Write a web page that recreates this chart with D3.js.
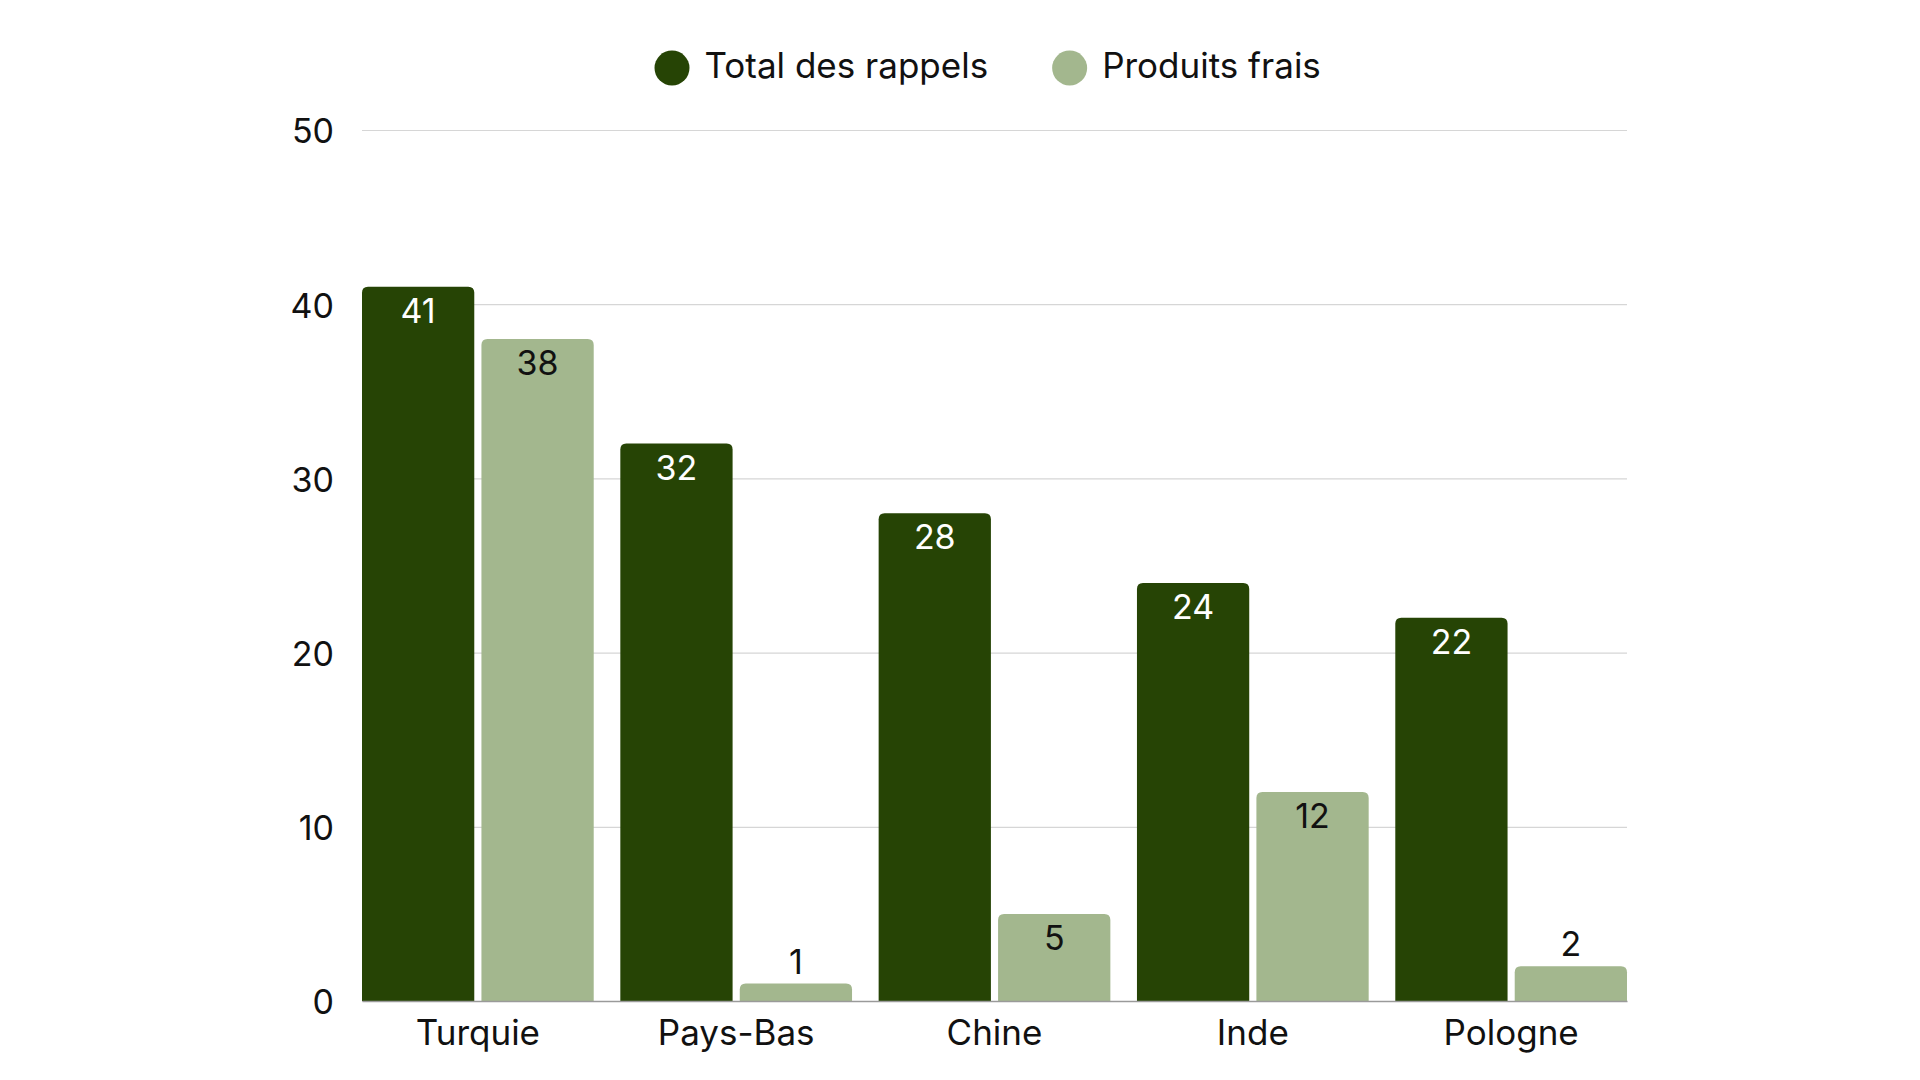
<!DOCTYPE html>
<html>
<head>
<meta charset="utf-8">
<script src="https://cdn.jsdelivr.net/npm/d3@7"></script>
<style>
  body { margin: 0; background: #fff; }
  svg { display: block; font-family: Inter, "Noto Sans", sans-serif; }
</style>
</head>
<body>
<svg id="chart"></svg>
<script>
const categories = ['Turquie', 'Pays-Bas', 'Chine', 'Inde', 'Pologne'];
const seriesNames = ['Total des rappels', 'Produits frais'];
const totalRappels = [41, 32, 28, 24, 22];
const produitsFrais = [38, 1, 5, 12, 2];
const yTicks = [0, 10, 20, 30, 40, 50];

const colors = ['#264405', '#a3b78e'];
const labelColors = ['#ffffff', '#111111'];

const width = 1920, height = 1080;
const margin = { top: 130, right: 293, bottom: 79, left: 362 };
const innerW = width - margin.left - margin.right;
const innerH = height - margin.top - margin.bottom;

const svg = d3.select('#chart')
  .attr('width', width)
  .attr('height', height);

const data = categories.map((c, i) => ({
  cat: c,
  values: [totalRappels[i], produitsFrais[i]]
}));

// scales
const x0 = d3.scaleBand()
  .domain(categories)
  .range([0, innerW])
  .paddingInner(0.103)
  .paddingOuter(0);

const x1 = d3.scaleBand()
  .domain(d3.range(seriesNames.length))
  .range([0, x0.bandwidth()])
  .paddingInner(0.06);

const y = d3.scaleLinear()
  .domain([0, 50])
  .range([innerH, 0]);

const g = svg.append('g')
  .attr('transform', `translate(${margin.left},${margin.top})`);

// gridlines + y labels
const yAxis = g.append('g')
  .call(d3.axisLeft(y).tickValues(yTicks).tickSize(-innerW).tickPadding(28));
yAxis.select('.domain').remove();
yAxis.selectAll('line').attr('stroke', '#d6d6d6').attr('stroke-width', 1.2);
yAxis.selectAll('text')
  .attr('font-size', 34)
  .attr('dy', '0.38em')
  .attr('fill', '#111')
  .attr('font-family', 'Inter, sans-serif');

// bars with rounded tops
function topRounded(x, yTop, w, h, r) {
  r = Math.min(r, h, w / 2);
  return `M${x},${yTop + h}V${yTop + r}Q${x},${yTop} ${x + r},${yTop}` +
    `H${x + w - r}Q${x + w},${yTop} ${x + w},${yTop + r}V${yTop + h}Z`;
}

const groups = g.selectAll('.grp')
  .data(data)
  .enter()
  .append('g')
  .attr('class', 'grp')
  .attr('transform', d => `translate(${x0(d.cat)},0)`);

groups.selectAll('path')
  .data(d => d.values.map((v, i) => ({ v, i })))
  .enter()
  .append('path')
  .attr('d', d => topRounded(x1(d.i), y(d.v), x1.bandwidth(), innerH - y(d.v), 6))
  .attr('fill', d => colors[d.i]);

// x axis
const xAxis = g.append('g')
  .attr('transform', `translate(0,${innerH})`)
  .call(d3.axisBottom(x0).tickSize(0).tickPadding(19));
xAxis.select('.domain').attr('stroke', '#9a9a9a').attr('stroke-width', 1.5);
xAxis.selectAll('text')
  .attr('font-size', 35)
  .attr('fill', '#111')
  .attr('font-family', 'Inter, sans-serif');

// value labels
groups.selectAll('.val')
  .data(d => d.values.map((v, i) => ({ v, i })))
  .enter()
  .append('text')
  .attr('class', 'val')
  .attr('x', d => x1(d.i) + x1.bandwidth() / 2)
  .attr('y', d => (innerH - y(d.v)) > 50 ? y(d.v) + 36 : y(d.v) - 10)
  .attr('text-anchor', 'middle')
  .attr('font-size', 34)
  .attr('fill', d => (innerH - y(d.v)) > 50 ? labelColors[d.i] : '#111')
  .text(d => d.v);

// legend
const legend = svg.append('g').attr('transform', 'translate(0,68)');
let lx = 654.5;
seriesNames.forEach((name, i) => {
  legend.append('circle')
    .attr('cx', lx + 17.5)
    .attr('cy', 0)
    .attr('r', 17.5)
    .attr('fill', colors[i]);
  const t = legend.append('text')
    .attr('x', lx + 50)
    .attr('y', 10)
    .attr('font-size', 35)
    .attr('fill', '#111')
    .text(name);
  lx += 50 + t.node().getComputedTextLength() + 64;
});
</script>
</body>
</html>
